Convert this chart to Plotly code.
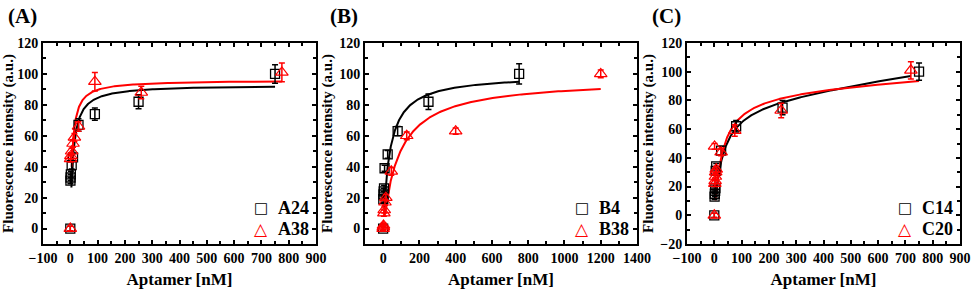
import numpy as np
import plotly.graph_objects as go

# ---------------- data ----------------
# Panel A
a24_x = [0, 0.5, 1, 2, 5, 10, 30, 90, 250, 750]
a24_y = [0, 31, 33, 35, 41, 46, 67, 74, 82, 100]
a24_e = [1.5, 2, 2, 2, 2.5, 2.5, 4, 4, 4.5, 6]
a38_x = [0, 1, 2, 5, 10, 15, 30, 90, 260, 775]
a38_y = [0, 45, 47, 50, 55, 59, 66, 95, 88, 101]
a38_e = [1.5, 2, 2, 2, 2.5, 2.5, 3, 6, 4, 6]

# Panel B
b4_x = [0, 1, 2, 3, 5, 8, 25, 80, 250, 750]
b4_y = [0, 19, 22, 24, 26, 39, 48, 63, 82, 100]
b4_e = [1.5, 2, 2, 2, 2, 2, 2.5, 3, 5, 6.5]
b38_x = [0, 1, 2, 4, 6, 10, 15, 45, 130, 400, 1200]
b38_y = [0, 1, 2, 10, 12, 17, 20, 37, 60, 63, 100]
b38_e = [1.5, 1.5, 1.5, 2, 2, 2, 2, 2.5, 2.5, 2, 2.5]

# Panel C
c14_x = [0, 1, 2, 3, 4, 5, 7, 25, 80, 250, 750]
c14_y = [0, 13, 15, 17, 19, 31, 34, 45, 62, 75, 100]
c14_e = [1.5, 2, 2, 2, 2, 2, 2, 3, 4, 5, 6]
c20_x = [0, 1, 2, 3, 4, 5, 7, 25, 75, 245, 720]
c20_y = [0, 48, 22, 24, 27, 30, 32, 44, 59, 73, 101]
c20_e = [1.5, 2, 2, 2, 2, 2, 2, 2.5, 4, 5, 6]

# fitted binding-curve parameters: (Bmax, Kd, NS, x_start, x_end)
fit_a24 = (93.0, 10.0, 0.0, 4, 750)
fit_a38 = (96.0, 7.0, 0.0, 5, 775)
fit_b4 = (99.6, 37.0, 0.0, 6, 750)
fit_b38 = (97.0, 90.0, 0.0, 8, 1200)
fit_c14 = (80.5, 30.0, 0.0275, 6, 720)
fit_c20 = (88.0, 30.0, 0.012, 4, 750)

panel_labels = ["(A)", "(B)", "(C)"]
legend_names = [("A24", "A38"), ("B4", "B38"), ("C14", "C20")]
x_ranges = [[-100, 900], [-100, 1400], [-100, 900]]
x_dtick = [100, 200, 100]
y_ranges = [[-10, 120], [-10, 120], [-20, 120]]

# ---------------- figure ----------------
FONT = "Liberation Serif"
BLACK = "#000000"
RED = "#ff0000"

x_domains = [[43 / 973, 316 / 973], [365 / 973, 637 / 973], [687 / 973, 960 / 973]]
y_domain = [1 - 244 / 290, 1 - 43 / 290]

fig = go.Figure()


def curve(p):
    B, K, NS, xs, xe = p
    x = np.geomspace(xs, xe, 300)
    return x, B * x / (K + x) + NS * x


panels = [
    (a24_x, a24_y, a24_e, a38_x, a38_y, a38_e, fit_a24, fit_a38),
    (b4_x, b4_y, b4_e, b38_x, b38_y, b38_e, fit_b4, fit_b38),
    (c14_x, c14_y, c14_e, c20_x, c20_y, c20_e, fit_c14, fit_c20),
]

for i, (bx, by, be, rx, ry, re, fb, fr) in enumerate(panels):
    xa = "x" if i == 0 else f"x{i+1}"
    ya = "y" if i == 0 else f"y{i+1}"
    cx, cy = curve(fb)
    fig.add_trace(go.Scatter(x=cx, y=cy, mode="lines", line=dict(color=BLACK, width=2),
                             xaxis=xa, yaxis=ya, showlegend=False, hoverinfo="skip"))
    cx, cy = curve(fr)
    fig.add_trace(go.Scatter(x=cx, y=cy, mode="lines", line=dict(color=RED, width=2),
                             xaxis=xa, yaxis=ya, showlegend=False, hoverinfo="skip"))
    fig.add_trace(go.Scatter(
        x=bx, y=by, mode="markers", xaxis=xa, yaxis=ya, showlegend=False,
        marker=dict(symbol="square-open", size=9, color=BLACK, line=dict(width=1.3)),
        error_y=dict(type="data", array=be, visible=True, color=BLACK, thickness=1.5, width=3)))
    fig.add_trace(go.Scatter(
        x=rx, y=ry, mode="markers", xaxis=xa, yaxis=ya, showlegend=False,
        marker=dict(symbol="triangle-up-open", size=11, color=RED, line=dict(width=1.2)),
        error_y=dict(type="data", array=re, visible=True, color=RED, thickness=1.5, width=3)))

    d = x_domains[i]
    axis_common = dict(showline=True, linecolor=BLACK, linewidth=2, mirror="ticks",
                       ticks="inside", ticklen=4, tickwidth=2, tickcolor=BLACK,
                       showgrid=False, zeroline=False, automargin=False,
                       tickfont=dict(family=FONT, size=14, color=BLACK))
    fig.update_layout(**{
        ("xaxis" if i == 0 else f"xaxis{i+1}"): dict(
            domain=d, anchor=ya, range=x_ranges[i], dtick=x_dtick[i], tick0=0,
            minor=dict(ticks="inside", ticklen=3, tickwidth=2, tickcolor=BLACK, dtick=x_dtick[i] / 2),
            title=dict(text="<b>Aptamer [nM]</b>", font=dict(family=FONT, size=17, color=BLACK), standoff=8),
            tickprefix="<b>", ticksuffix="</b>", **axis_common),
        ("yaxis" if i == 0 else f"yaxis{i+1}"): dict(
            domain=y_domain, anchor=xa, range=y_ranges[i], dtick=20, tick0=0,
            minor=dict(ticks="inside", ticklen=3, tickwidth=2, tickcolor=BLACK, dtick=10),
            title=dict(text="<b>Fluorescence intensity (a.u.)</b>", font=dict(family=FONT, size=15, color=BLACK), standoff=3),
            tickprefix="<b>", ticksuffix="</b>", **axis_common),
    })

    # panel label
    fig.add_annotation(text=f"<b>{panel_labels[i]}</b>", xref="paper", yref="paper",
                       x=d[0] - 37 / 973, y=1 - 2 / 290, xanchor="left", yanchor="top",
                       showarrow=False, font=dict(family=FONT, size=21, color=BLACK))
    # legend entries (symbol + bold text) placed inside bottom-right
    right = d[1]
    for k, (name, sym, col, sz, yy) in enumerate([
            (legend_names[i][0], "□", BLACK, 15, 208),
            (legend_names[i][1], "△", RED, 17, 229)]):
        fig.add_annotation(text=sym, xref="paper", yref="paper",
                           x=right - 55 / 973, y=1 - yy / 290, xanchor="center", yanchor="middle",
                           showarrow=False, font=dict(family="DejaVu Sans", size=sz, color=col))
        fig.add_annotation(text=f"<b>{name}</b>", xref="paper", yref="paper",
                           x=right - 40 / 973, y=1 - yy / 290, xanchor="left", yanchor="middle",
                           showarrow=False, font=dict(family=FONT, size=18, color=BLACK))

fig.update_layout(width=973, height=290, margin=dict(l=0, r=0, t=0, b=0),
                  paper_bgcolor="white", plot_bgcolor="white", showlegend=False)

fig.write_html("out.html", config={"displayModeBar": False},
               post_script="document.body.style.margin='0';document.body.style.overflow='hidden';")
